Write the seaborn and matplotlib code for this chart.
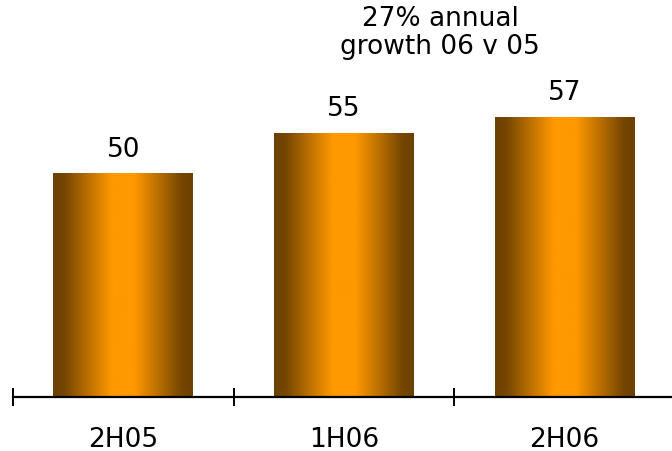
import numpy as np
import pandas as pd
import matplotlib
matplotlib.use("Agg")
import matplotlib.pyplot as plt
from matplotlib.colors import LinearSegmentedColormap
import seaborn as sns

categories = ["2H05", "1H06", "2H06"]
values = [50, 55, 57]
note_text = "27% annual\ngrowth 06 v 05"

sns.set_style("white")
plt.rcParams['font.family'] = ['DejaVu Sans']

df = pd.DataFrame({"period": categories, "value": values})

fig = plt.figure(figsize=(6.72, 4.52), dpi=100)
ax = fig.add_axes([13 / 672, 54 / 452, 662 / 672, 398 / 452])

sns.barplot(data=df, x="period", y="value", order=categories, ax=ax,
            width=0.634, color="#FF9900", saturation=1, linewidth=0)

ybot = 22.35
ytop = ybot + 398 / 8.077
ax.set_xlim(-0.5, 2.5)
ax.set_ylim(ybot, ytop)

# gradient fill for each bar
cmap = LinearSegmentedColormap.from_list(
    "barg", [(0.0, "#6B4000"), (0.08, "#754600"), (0.42, "#FF9900"),
             (0.58, "#FF9900"), (0.92, "#754600"), (1.0, "#6B4000")],
    N=256)
grad = np.linspace(0, 1, 256).reshape(1, -1)
for p in list(ax.patches):
    x0, w, h = p.get_x(), p.get_width(), p.get_height()
    ax.imshow(grad, cmap=cmap, aspect="auto",
              extent=[x0, x0 + w, ybot, h], zorder=2,
              interpolation="bicubic")
    p.set_visible(False)
ax.set_xlim(-0.5, 2.5)
ax.set_ylim(ybot, ytop)

for i, v in enumerate(values):
    ax.annotate(str(v), (i, v), xytext=(0, 13), textcoords="offset points",
                ha="center", va="baseline", fontsize=19, color="black")

for s in ["top", "right", "left"]:
    ax.spines[s].set_visible(False)
ax.spines["bottom"].set_linewidth(1.6)
ax.spines["bottom"].set_color("black")
ax.spines["bottom"].set_zorder(5)
ax.set_yticks([])
ax.set_xlabel("")
ax.set_ylabel("")

ax.set_xticks([-0.5, 0.5, 1.5, 2.5])
ax.set_xticklabels([])
ax.set_xticks([0, 1, 2], minor=True)
ax.set_xticklabels(categories, minor=True, fontsize=19)
ax.tick_params(axis="x", which="major", direction="inout", length=12.5,
               width=1.4, color="black", bottom=True)
ax.tick_params(axis="x", which="minor", length=0, pad=21, bottom=True,
               labelcolor="black")

fig.text(440 / 672, 1 - 33 / 452, note_text, ha="center", va="center",
         fontsize=19, color="black", linespacing=1.15)

fig.savefig("out.png", dpi=100)
